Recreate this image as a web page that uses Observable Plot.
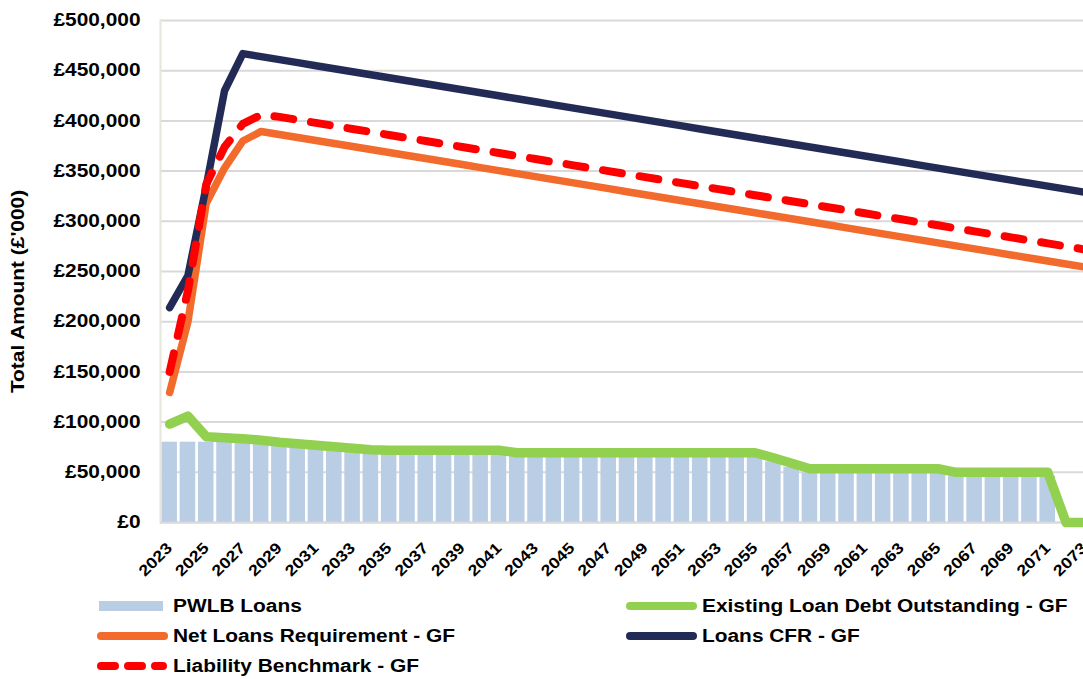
<!DOCTYPE html>
<html>
<head>
<meta charset="utf-8">
<script src="https://cdn.jsdelivr.net/npm/d3@7"></script>
<script src="https://cdn.jsdelivr.net/npm/@observablehq/plot@0.6"></script>
<style>
  html, body { margin: 0; padding: 0; background: #fff; overflow: hidden; }
  #chart svg { display: block; overflow: hidden; }
  #legend { position: relative; width: 1083px; height: 89px; font: bold 18px "Liberation Sans", Arial, sans-serif; color: #000; }
  .item { position: absolute; height: 24px; display: flex; align-items: center; white-space: nowrap; }
  .item svg { display: block; margin-right: 5px; }
  .item span { display: inline-block; transform: scaleX(1.16); transform-origin: 0 50%; }
</style>
</head>
<body>
<div id="chart"></div>
<div id="legend"></div>
<script>
const years = [2023,2024,2025,2026,2027,2028,2029,2030,2031,2032,2033,2034,2035,2036,2037,2038,2039,2040,2041,2042,2043,2044,2045,2046,2047,2048,2049,2050,2051,2052,2053,2054,2055,2056,2057,2058,2059,2060,2061,2062,2063,2064,2065,2066,2067,2068,2069,2070,2071,2072,2073];
const tickYears = [2023,2025,2027,2029,2031,2033,2035,2037,2039,2041,2043,2045,2047,2049,2051,2053,2055,2057,2059,2061,2063,2065,2067,2069,2071,2073];
const yTicks = [0,50000,100000,150000,200000,250000,300000,350000,400000,450000,500000];

const pwlbLoans = [80000,80000,80000,80000,79500,78000,76000,74500,73000,71500,70000,68500,68000,68000,68000,68000,68000,68000,68000,65500,65500,65500,65500,65500,65500,65500,65500,65500,65500,65500,65500,65500,65500,60500,55000,49500,49500,49500,49500,49500,49500,49500,49500,46000,46000,46000,46000,46000,46000,0,0];
const existingDebt = [98000,106000,85500,84500,83500,82000,80000,78500,77000,75500,74000,72500,72000,72000,72000,72000,72000,72000,72000,69500,69500,69500,69500,69500,69500,69500,69500,69500,69500,69500,69500,69500,69500,64500,59000,53500,53500,53500,53500,53500,53500,53500,53500,50000,50000,50000,50000,50000,50000,0,0];
const netLoansReq = [129500,200000,318000,353000,380000,389500,386500,383500,380500,377500,374500,371500,368500,365500,362500,359500,356500,353500,350500,347500,344500,341500,338500,335500,332500,329500,326500,323500,320500,317500,314500,311500,308500,305500,302500,299500,296500,293500,290500,287500,284500,281500,278500,275500,272500,269500,266500,263500,260500,257500,254500];
const loansCFR = [214000,246000,335000,430000,467000,464000,461000,458000,455000,452000,449000,446000,443000,440000,437000,434000,431000,428000,425000,422000,419000,416000,413000,410000,407000,404000,401000,398000,395000,392000,389000,386000,383000,380000,377000,374000,371000,368000,365000,362000,359000,356000,353000,350000,347000,344000,341000,338000,335000,332000,329000];
const liabilityBenchmark = [150000,231000,337000,374000,397000,406000,404000,401000,398000,395000,392000,389000,386000,383000,380000,377000,374000,371000,368000,365000,362000,359000,356000,353000,350000,347000,344000,341000,338000,335000,332000,329000,326000,323000,320000,317000,314000,311000,308000,305000,302000,299000,296000,293000,290000,287000,284000,281000,278000,275000,272000];

const seriesNames = ["PWLB Loans","Existing Loan Debt Outstanding - GF","Net Loans Requirement - GF","Loans CFR - GF","Liability Benchmark - GF"];
const seriesColors = ["#b9cde5","#92d050","#f26a2c","#222b55","#ff0000"];
const yTitle = "Total Amount (£'000)";

const rows = years.map((yr, i) => ({
  year: yr,
  pwlb: pwlbLoans[i],
  existing: existingDebt[i],
  net: netLoansReq[i],
  cfr: loansCFR[i],
  lb: liabilityBenchmark[i]
}));

const fmt = d3.format(",");
const font = "'Liberation Sans', Arial, sans-serif";

const chart = Plot.plot({
  width: 1083,
  height: 590,
  marginLeft: 160,
  marginRight: -10,
  marginTop: 20,
  marginBottom: 68,
  style: {fontFamily: font, fontWeight: "bold", fontSize: "18px", color: "#000", background: "#fff"},
  x: {type: "band", domain: years, paddingInner: 0.15, paddingOuter: 0.075, round: false, label: null},
  y: {domain: [0, 500000], label: null},
  marks: [
    Plot.gridY(yTicks, {stroke: "#d9d9d9", strokeWidth: 2, strokeOpacity: 1}),
    Plot.barY(rows, {x: "year", y: "pwlb", fill: seriesColors[0]}),
    Plot.frame({anchor: "left", stroke: "#e6e6dc", strokeWidth: 2}),
    Plot.ruleY([0], {stroke: "#d9d9d9", strokeWidth: 2}),
    Plot.line(rows, {x: "year", y: "existing", stroke: seriesColors[1], strokeWidth: 9.5, strokeLinejoin: "round", strokeLinecap: "round"}),
    Plot.line(rows, {x: "year", y: "net", stroke: seriesColors[2], strokeWidth: 7.5, strokeLinejoin: "round", strokeLinecap: "round"}),
    Plot.line(rows, {x: "year", y: "cfr", stroke: seriesColors[3], strokeWidth: 7.5, strokeLinejoin: "round", strokeLinecap: "round"}),
    Plot.line(rows, {x: "year", y: "lb", stroke: seriesColors[4], strokeWidth: 8, strokeDasharray: "19,18", strokeLinecap: "round", strokeLinejoin: "round"}),
    Plot.axisY(yTicks, {tickSize: 0, tickPadding: 20, tickFormat: d => "£" + fmt(d), fontSize: 18, fontWeight: "bold", label: null}),
    Plot.axisX(tickYears, {tickSize: 0, tickPadding: 23, tickRotate: -45, tickFormat: d => String(d), fontSize: 15.5, fontWeight: "bold", label: null}),
    Plot.text([yTitle], {frameAnchor: "left", textAnchor: "middle", rotate: -90, dx: -142, dy: 20, fontSize: 18, fontWeight: "bold", fill: "#000"})
  ]
});

// widen glyphs along the text direction (reference text is a broad bold sans)
const S = 1.16;
chart.querySelectorAll("text").forEach(t => {
  const T = t.getAttribute("transform") || "";
  const xa = t.getAttribute("x");
  if (xa !== null && isFinite(+xa)) t.setAttribute("x", +xa / S);
  t.setAttribute("transform", `${T} scale(${S},1)`.trim());
});
document.getElementById("chart").appendChild(chart);

// Legend
const legend = document.getElementById("legend");
const legendLayout = [
  {i: 0, left: 96, top: 4},
  {i: 1, left: 625, top: 4},
  {i: 2, left: 96, top: 34},
  {i: 3, left: 625, top: 34},
  {i: 4, left: 96, top: 64}
];
for (const {i, left, top} of legendLayout) {
  const div = document.createElement("div");
  div.className = "item";
  div.style.left = left + "px";
  div.style.top = top + "px";
  let sw;
  if (i === 0) {
    sw = `<svg width="72" height="24"><rect x="3" y="7" width="64" height="10" fill="${seriesColors[0]}"/></svg>`;
  } else if (i === 4) {
    sw = `<svg width="72" height="24"><line x1="5" y1="12" x2="67" y2="12" stroke="${seriesColors[4]}" stroke-width="8" stroke-linecap="round" stroke-dasharray="14,13"/></svg>`;
  } else {
    sw = `<svg width="72" height="24"><line x1="5" y1="12" x2="68" y2="12" stroke="${seriesColors[i]}" stroke-width="8" stroke-linecap="round"/></svg>`;
  }
  div.innerHTML = sw + `<span>${seriesNames[i]}</span>`;
  legend.appendChild(div);
}
</script>
</body>
</html>
